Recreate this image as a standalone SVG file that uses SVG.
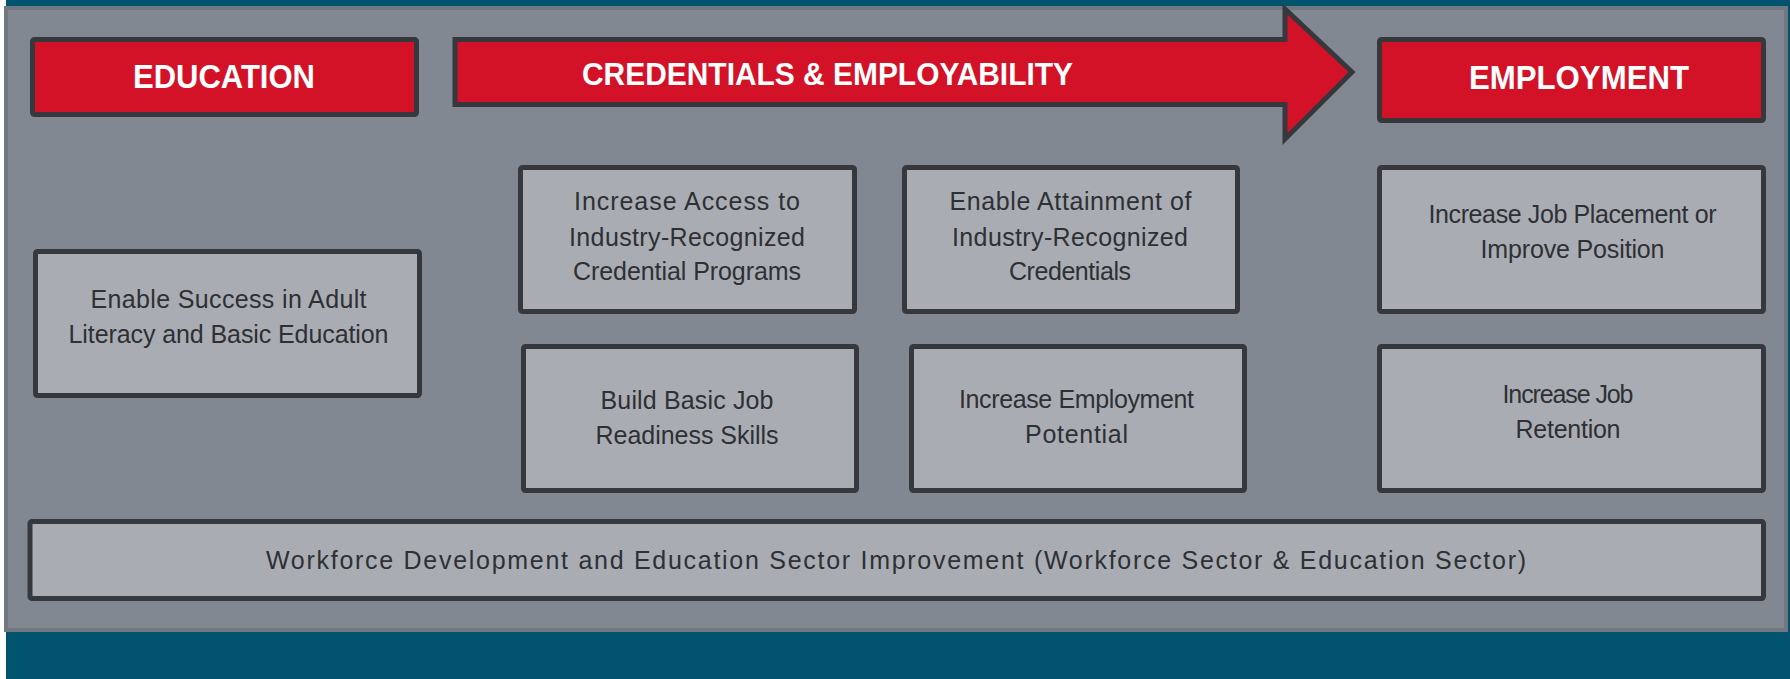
<svg xmlns="http://www.w3.org/2000/svg" width="1790" height="679" viewBox="0 0 1790 679">
<style>
.hdr{fill:#d31228;stroke:#36383d;stroke-width:5;stroke-linejoin:miter}
.box{fill:#a9adb3;stroke:#36383d;stroke-width:5}
.ht{font-family:"Liberation Sans",Arial,sans-serif;font-weight:bold;fill:#ffffff}
.bt{font-family:"Liberation Sans",Arial,sans-serif;font-size:25px;fill:#2e3034;text-anchor:middle}
</style>
<rect x="0" y="0" width="1790" height="679" fill="#ffffff"/>
<rect x="6" y="0" width="1784" height="679" fill="#02536e"/>
<rect id="panel" x="6" y="8" width="1780" height="622" fill="#828891" stroke="#72787f" stroke-width="4"/>

<g id="connectors"></g>

<g id="education">
<rect class="hdr" x="32.5" y="39.5" width="384" height="75" rx="2"/>
<text class="ht" x="133" y="88" font-size="33.5" textLength="182" lengthAdjust="spacingAndGlyphs">EDUCATION</text>
</g>
<g id="credentials">
<polygon class="hdr" points="455,39.5 1285,39.5 1285,9 1352,72 1285,139 1285,104.5 455,104.5"/>
<text class="ht" x="582" y="85" font-size="31" textLength="491" lengthAdjust="spacingAndGlyphs">CREDENTIALS &amp; EMPLOYABILITY</text>
</g>
<g id="employment">
<rect class="hdr" x="1379.5" y="39.5" width="384" height="81" rx="2"/>
<text class="ht" x="1469" y="89" font-size="33.5" textLength="220" lengthAdjust="spacingAndGlyphs">EMPLOYMENT</text>
</g>

<g id="adult-literacy">
<rect class="box" x="35.5" y="251.5" width="384" height="144" rx="2"/>
<text class="bt" x="228.5" y="308" textLength="276" lengthAdjust="spacing">Enable Success in Adult</text>
<text class="bt" x="228.5" y="343" textLength="320" lengthAdjust="spacing">Literacy and Basic Education</text>
</g>
<g id="increase-access">
<rect class="box" x="520.5" y="167.5" width="334" height="144" rx="2"/>
<text class="bt" x="687" y="210" textLength="226" lengthAdjust="spacing">Increase Access to</text>
<text class="bt" x="687" y="245.5" textLength="236" lengthAdjust="spacing">Industry-Recognized</text>
<text class="bt" x="687" y="280" textLength="228" lengthAdjust="spacing">Credential Programs</text>
</g>
<g id="job-readiness">
<rect class="box" x="523.5" y="346.5" width="333" height="144" rx="2"/>
<text class="bt" x="687" y="409" textLength="173" lengthAdjust="spacing">Build Basic Job</text>
<text class="bt" x="687" y="444" textLength="183" lengthAdjust="spacing">Readiness Skills</text>
</g>
<g id="attainment">
<rect class="box" x="904.5" y="167.5" width="333" height="144" rx="2"/>
<text class="bt" x="1070.5" y="210" textLength="242" lengthAdjust="spacing">Enable Attainment of</text>
<text class="bt" x="1070" y="245.5" textLength="236" lengthAdjust="spacing">Industry-Recognized</text>
<text class="bt" x="1070" y="280" textLength="122" lengthAdjust="spacing">Credentials</text>
</g>
<g id="employment-potential">
<rect class="box" x="911.5" y="346.5" width="333" height="144" rx="2"/>
<text class="bt" x="1076.5" y="408" textLength="235" lengthAdjust="spacing">Increase Employment</text>
<text class="bt" x="1076.5" y="443" textLength="103" lengthAdjust="spacing">Potential</text>
</g>
<g id="job-placement">
<rect class="box" x="1379.5" y="167.5" width="384" height="144" rx="2"/>
<text class="bt" x="1572.5" y="222.5" textLength="288" lengthAdjust="spacing">Increase Job Placement or</text>
<text class="bt" x="1572.5" y="258" textLength="184" lengthAdjust="spacing">Improve Position</text>
</g>
<g id="job-retention">
<rect class="box" x="1379.5" y="346.5" width="384" height="144" rx="2"/>
<text class="bt" x="1568" y="403" textLength="131" lengthAdjust="spacing">Increase Job</text>
<text class="bt" x="1568" y="438" textLength="105" lengthAdjust="spacing">Retention</text>
</g>
<g id="sector-improvement">
<rect class="box" x="30" y="521.5" width="1733.5" height="77" rx="2"/>
<text class="bt" x="896" y="569" textLength="1260" lengthAdjust="spacing">Workforce Development and Education Sector Improvement  (Workforce Sector &amp; Education Sector)</text>
</g>
</svg>
